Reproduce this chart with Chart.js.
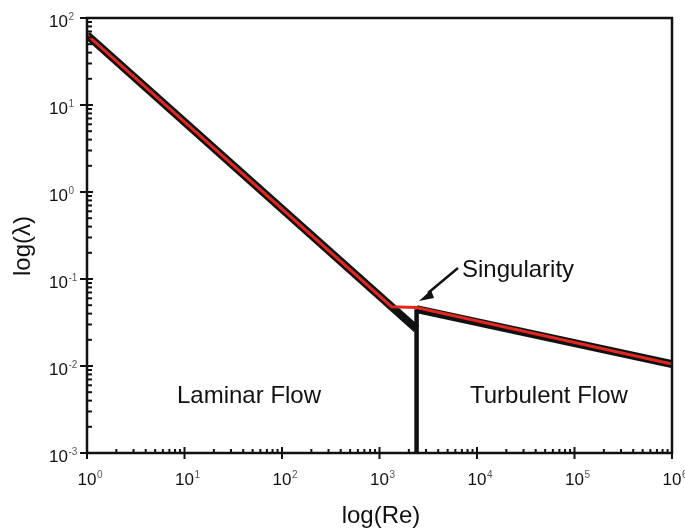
<!DOCTYPE html>
<html>
<head>
<meta charset="utf-8">
<script src="https://cdn.jsdelivr.net/npm/chart.js@4"></script>
<style>
  body { margin: 0; background: #fff; }
  #wrap { width: 685px; height: 532px; position: relative; }
</style>
</head>
<body>
<div id="wrap"><canvas id="chart"></canvas></div>
<script>
// values (Re, friction factor lambda)
const laminarRe = [1, 2400];
const laminarLam = [64, 0.0267];
const turbRe = [2400, 1e6];
const turbLam = [0.045, 0.0105];
const dropRe = [2400, 2400];
const dropLam = [0.045, 0.0009];
const fitRe = [1, 1330, 2400, 1e6];
const fitLam = [64, 0.048, 0.047, 0.0105];

const xTicks = [1, 10, 100, 1000, 1e4, 1e5, 1e6];
const xTickExp = ["0", "1", "2", "3", "4", "5", "6"];
const yTicks = [0.001, 0.01, 0.1, 1, 10, 100];
const yTickExp = ["-3", "-2", "-1", "0", "1", "2"];

const FONT = "'Liberation Sans', Arial, Helvetica, sans-serif";

const pts = (xs, ys) => xs.map((v, i) => ({ x: v, y: ys[i] }));

function seg(ctx, x1, y1, x2, y2) {
  ctx.beginPath();
  ctx.moveTo(x1, y1);
  ctx.lineTo(x2, y2);
  ctx.stroke();
}

// "10" with a small exponent; align = "right" (y axis) or "center" (x axis)
function pow10(ctx, px, py, exp, align) {
  ctx.font = "17px " + FONT;
  const w = ctx.measureText("10").width;
  let left = align === "right" ? px - w : px - w / 2;
  ctx.fillStyle = "#111";
  ctx.textAlign = "left";
  ctx.textBaseline = "middle";
  ctx.fillText("10", left, py);
  ctx.font = "10px " + FONT;
  ctx.fillStyle = "#555";
  ctx.textBaseline = "top";
  ctx.fillText(exp, left + w + 0.5, py - 10);
}

const frame = {
  id: "frame",
  afterDraw(chart) {
    const { ctx, chartArea: a, scales } = chart;
    const x = scales.x, y = scales.y;
    ctx.save();
    ctx.strokeStyle = "#111";
    ctx.lineWidth = 2.5;
    ctx.strokeRect(a.left, a.top, a.right - a.left, a.bottom - a.top);

    ctx.lineWidth = 2;
    yTicks.forEach((v, i) => {
      const py = y.getPixelForValue(v);
      seg(ctx, a.left - 7, py, a.left + 6, py);
      if (i < yTicks.length - 1) {
        for (let m = 2; m <= 9; m++) {
          const pm = y.getPixelForValue(v * m);
          seg(ctx, a.left, pm, a.left + 5, pm);
        }
      }
      pow10(ctx, a.left - 19, py + 4, yTickExp[i], "right");
    });

    xTicks.forEach((v, i) => {
      const px = x.getPixelForValue(v);
      seg(ctx, px, a.bottom + 6, px, a.bottom - 6);
      if (i < xTicks.length - 1) {
        for (let m = 2; m <= 9; m++) {
          const pm = x.getPixelForValue(v * m);
          seg(ctx, pm, a.bottom, pm, a.bottom - 4);
        }
      }
      pow10(ctx, px, a.bottom + 27, xTickExp[i], "center");
    });

    // axis titles
    ctx.fillStyle = "#111";
    ctx.font = "24px " + FONT;
    ctx.textAlign = "center";
    ctx.textBaseline = "alphabetic";
    ctx.fillText("log(Re)", 381, 523);
    ctx.save();
    ctx.translate(30, 246);
    ctx.rotate(-Math.PI / 2);
    ctx.fillText("log(\u03bb)", 0, 0);
    ctx.restore();

    // annotations
    ctx.textAlign = "left";
    ctx.fillText("Laminar Flow", 177, 403);
    ctx.fillText("Turbulent Flow", 470, 403);
    ctx.fillText("Singularity", 462, 277);

    // arrow
    ctx.lineWidth = 2.5;
    seg(ctx, 458, 268, 428, 293);
    ctx.beginPath();
    ctx.moveTo(419, 301);
    ctx.lineTo(431, 290);
    ctx.lineTo(434, 298);
    ctx.closePath();
    ctx.fill();
    ctx.restore();
  }
};

new Chart(document.getElementById("chart"), {
  type: "scatter",
  data: {
    datasets: [
      { data: pts(fitRe, fitLam), borderColor: "#e3261f", borderWidth: 3, order: 0 },
      { data: pts(laminarRe, laminarLam), borderColor: "#111", borderWidth: 8, order: 1 },
      { data: pts(turbRe, turbLam), borderColor: "#111", borderWidth: 8, order: 1 },
      { data: pts(dropRe, dropLam), borderColor: "#111", borderWidth: 4.5, order: 1 }
    ]
  },
  options: {
    responsive: true,
    maintainAspectRatio: false,
    animation: false,
    showLine: true,
    elements: { point: { radius: 0 }, line: { tension: 0 } },
    layout: { padding: { left: 87, right: 13, top: 18, bottom: 79 } },
    plugins: { legend: { display: false }, tooltip: { enabled: false } },
    scales: {
      x: { type: "logarithmic", min: 1, max: 1e6, display: false },
      y: { type: "logarithmic", min: 0.001, max: 100, display: false }
    }
  },
  plugins: [frame]
});
</script>
</body>
</html>
